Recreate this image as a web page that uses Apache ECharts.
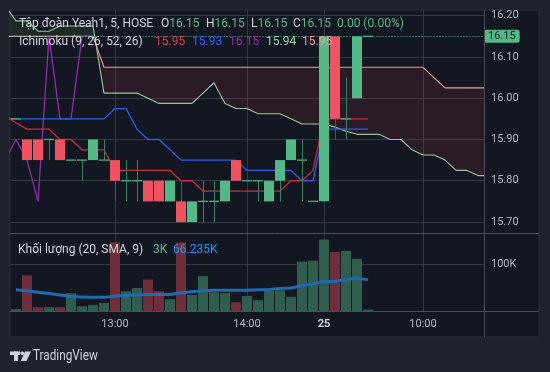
<!DOCTYPE html>
<html>
<head>
<meta charset="utf-8">
<script src="https://cdn.jsdelivr.net/npm/echarts@6/dist/echarts.min.js"></script>
<style>
html,body{margin:0;padding:0;background:#1e222d;}
#c{width:550px;height:372px;}
</style>
</head>
<body>
<div id="c"></div>
<script>
// ---------- data ----------
const barTimes = ['10:45','10:50','10:55','11:00','11:05','11:10','11:15','11:20','11:25',
  '13:00','13:05','13:10','13:15','13:20','13:25','13:30','13:35','13:40','13:45','13:50','13:55',
  '14:00','14:05','14:10','14:15','14:20','14:25','14:45','09:15','09:20','09:25','09:30','09:35'];
const tickIndex = [9, 21, 28, 37];
const tickLabels = ['13:00', '14:00', '25', '10:00'];
const priceTicks = [15.7, 15.8, 15.9, 16.0, 16.1, 16.2];
const volumeTicks = [100000];

const openP  = [15.95,15.90,15.90,15.90,15.90,15.85,15.85,15.85,15.85,15.85,15.80,15.80,15.80,15.80,15.75,15.75,15.70,15.75,15.75,15.75,15.85,15.80,15.80,15.75,15.80,15.85,15.85,15.75,15.75,16.15,15.95,16.00,16.15];
const highP  = [15.95,15.90,15.90,15.90,15.90,15.85,15.85,15.90,15.90,15.85,15.85,15.85,15.80,15.80,15.80,15.80,15.75,15.80,15.80,15.80,15.85,15.80,15.80,15.80,15.85,15.90,15.90,15.75,16.15,16.15,16.05,16.15,16.15];
const lowP   = [15.95,15.85,15.85,15.85,15.85,15.85,15.80,15.85,15.85,15.75,15.75,15.75,15.75,15.75,15.75,15.70,15.70,15.70,15.70,15.75,15.80,15.80,15.75,15.75,15.75,15.85,15.75,15.75,15.75,15.90,15.90,16.00,16.15];
const closeP = [15.95,15.85,15.85,15.90,15.85,15.85,15.85,15.90,15.85,15.80,15.80,15.80,15.75,15.75,15.80,15.70,15.75,15.75,15.75,15.80,15.80,15.80,15.80,15.80,15.85,15.90,15.85,15.75,16.15,15.95,15.95,16.15,16.15];

const volumeK   = [4,76,8,8,8,38,10,13,17,146,42,49,67,42,25,146,34,74,40,38,19,32,23,44,44,30,105,107,152,126,128,111,3];
const volumeMaK = [45,43,40,37,34,31,30,29,29,32,33,34,35,35,35,39,41,43,44,44,44,44,45,46,48,49,54,58,63,63,67,70,66.235];

// Ichimoku lines, first value sits one bar before the first candle
const ichiStart = -1;
const conversionLine = [15.96,15.94,15.925,15.925,15.925,15.90,15.90,15.875,15.875,15.875,15.825,15.825,15.825,15.825,15.825,15.825,15.80,15.80,15.775,15.775,15.775,15.775,15.775,15.775,15.775,15.775,15.80,15.80,15.825,15.95,15.95,15.95,15.95,15.95];
const baseLine = [15.95,15.95,15.95,15.95,15.95,15.95,15.95,15.95,15.95,15.95,15.975,15.975,15.925,15.90,15.90,15.875,15.85,15.85,15.85,15.85,15.85,15.85,15.825,15.825,15.825,15.825,15.825,15.80,15.80,15.925,15.925,15.925,15.925,15.925];
const laggingSpan = [15.85,15.90,15.85,15.75,16.15,15.95,15.95,16.15,16.15];
const leadingSpanA = [16.225,16.1875,16.1875,16.1625,16.1625,16.175,16.175,16.175,16.175,
  16.0125,16.0125,16.0125,16.0125,16.00,15.9875,15.9875,15.9875,15.9875,16.0125,16.0375,15.9875,15.975,15.975,
  15.9625,15.9625,15.9625,15.95,15.9375,15.9375,15.9375,15.93,15.92,15.9125,15.9125,15.9125,15.90,15.90,
  15.875,15.8625,15.8625,15.85,15.825,15.825,15.8125,15.8125];
const leadingSpanB = [16.15,16.15,16.15,16.15,16.15,16.15,16.15,16.15,16.15,
  16.075,16.075,16.075,16.075,16.075,16.075,16.075,16.075,16.075,16.075,16.075,16.075,16.075,16.075,16.075,
  16.075,16.075,16.075,16.075,16.075,16.075,16.075,16.075,16.075,16.075,16.075,16.075,16.075,16.075,16.075,
  16.05,16.025,16.025,16.025,16.025,16.025];
const ichimokuLegend = ['15.95', '15.93', '16.15', '15.94', '15.95'];

// ---------- styling ----------
const FONT = 'Roboto, "Noto Sans", sans-serif';
const LFONT = '12px ' + FONT;
const upC = '#53b987', downC = '#ef5261';
const upWick = '#358260', downWick = '#93394a';
const volUp = '#2f5e4e', volDown = '#6e2e3b';
const gridC = '#363a45', sepC = '#4c4f5a', axisTxt = '#b2b5be';
const redLineC = '#c92c3b', blueLineC = '#2a5fe8', purpleC = '#9529ae', spanAC = '#98c79a', spanBC = '#ef9a9a';

const n = closeP.length;
const candleData = closeP.map((c, i) => [i, openP[i], c, lowP[i], highP[i]]);
const volData = volumeK.map((v, i) => ({ value: [i, v * 1000], itemStyle: { color: closeP[i] >= openP[i] ? volUp : volDown } }));
const volMaData = volumeMaK.map((v, i) => [i, v * 1000]);
const toXY = arr => arr.map((v, i) => [i + ichiStart, v]);
const cloudData = leadingSpanA.slice(0, -1).map((a, i) => [i + ichiStart, a, leadingSpanB[i], leadingSpanA[i + 1], leadingSpanB[i + 1]]);

function renderCloud(params, api) {
  const x0 = api.value(0), a0 = api.value(1), b0 = api.value(2), a1 = api.value(3), b1 = api.value(4);
  const x1 = x0 + 1;
  const d0 = a0 - b0, d1 = a1 - b1;
  const upFill = 'rgba(67,160,71,0.15)', dnFill = 'rgba(244,62,72,0.11)';
  const poly = (pts, up) => ({ type: 'polygon', shape: { points: pts.map(p => api.coord(p)) }, style: { fill: up ? upFill : dnFill } });
  const kids = [];
  if (d0 * d1 >= 0) {
    kids.push(poly([[x0, a0], [x1, a1], [x1, b1], [x0, b0]], (d0 + d1) > 0));
  } else {
    const t = d0 / (d0 - d1);
    const xc = x0 + t, yc = a0 + t * (a1 - a0);
    kids.push(poly([[x0, a0], [xc, yc], [x0, b0]], d0 > 0));
    kids.push(poly([[xc, yc], [x1, a1], [x1, b1]], d1 > 0));
  }
  return { type: 'group', children: kids };
}

function renderCandle(params, api) {
  const x = api.value(0), o = api.value(1), c = api.value(2), l = api.value(3), h = api.value(4);
  const po = api.coord([x, o]), pc = api.coord([x, c]), pl = api.coord([x, l]), ph = api.coord([x, h]);
  const w = Math.round(api.size([1, 0])[0] * 0.88);
  const cx = Math.round(po[0]);
  const up = c >= o;
  const kids = [];
  if (Math.abs(ph[1] - pl[1]) > 0.5) {
    kids.push({ type: 'line', shape: { x1: cx + 0.5, y1: ph[1], x2: cx + 0.5, y2: pl[1] }, style: { stroke: up ? upWick : downWick, lineWidth: 1 } });
  }
  if (o === c) {
    kids.push({ type: 'line', shape: { x1: cx - w / 2, y1: po[1], x2: cx + w / 2, y2: po[1] }, style: { stroke: '#47a77b', lineWidth: 1.4 } });
  } else {
    const top = Math.min(po[1], pc[1]), bot = Math.max(po[1], pc[1]);
    kids.push({ type: 'rect', shape: { x: cx - w / 2, y: top, width: w, height: bot - top }, style: { fill: up ? upC : downC } });
  }
  return { type: 'group', children: kids };
}

const xBase = { type: 'value', min: -0.5, max: 42.545, axisLine: { show: false },
  axisTick: { show: false, customValues: tickIndex },
  splitLine: { show: true, lineStyle: { color: gridC, width: 1 } } };

const legendText = (x, y, text, fill, extra) => Object.assign({ type: 'text', x: x, y: y, z: 100,
  style: { text: text, fill: fill, font: LFONT, verticalAlign: 'middle' } }, extra || {});

const last = n - 1;
const chg = closeP[last] - closeP[last - 1];
const fmtK = v => (Math.round(v * 1000) / 1000) + 'K';

const option = {
  animation: false,
  backgroundColor: '#1e222d',
  grid: [
    { left: 10.5, right: 66, top: 10, height: 223 },
    { left: 10.5, right: 66, top: 234, height: 77 }
  ],
  xAxis: [
    Object.assign({}, xBase, { gridIndex: 0, axisLabel: { show: false, customValues: tickIndex } }),
    Object.assign({}, xBase, { gridIndex: 1, axisLabel: { show: true, customValues: tickIndex, color: axisTxt, fontSize: 11, fontFamily: FONT, margin: 8,
      formatter: v => { const s = tickLabels[tickIndex.indexOf(Math.round(v))]; return s === '25' ? '{b|25}' : s; },
      rich: { b: { fontWeight: 'bold', color: '#d1d4dc', fontSize: 11, fontFamily: FONT } } } })
  ],
  yAxis: [
    { gridIndex: 0, type: 'value', position: 'right', min: 15.6733, max: 16.2139,
      axisLine: { show: false }, axisTick: { show: false, customValues: priceTicks },
      axisLabel: { customValues: priceTicks, formatter: v => v.toFixed(2), color: axisTxt, fontSize: 11, fontFamily: FONT, margin: 7 },
      splitLine: { show: true, lineStyle: { color: gridC, width: 1 } } },
    { gridIndex: 1, type: 'value', position: 'right', min: 0, max: 163800,
      axisLine: { show: false }, axisTick: { show: false, customValues: volumeTicks },
      axisLabel: { customValues: volumeTicks, formatter: v => (v / 1000) + 'K', color: axisTxt, fontSize: 11, fontFamily: FONT, margin: 7 },
      splitLine: { show: true, lineStyle: { color: gridC, width: 1 } } }
  ],
  series: [
    { type: 'custom', name: 'cloud', xAxisIndex: 0, yAxisIndex: 0, renderItem: renderCloud, data: cloudData,
      encode: { x: 0, y: [1, 2, 3, 4] }, clip: true, z: 1, silent: true },
    { type: 'line', name: 'spanA', xAxisIndex: 0, yAxisIndex: 0, data: toXY(leadingSpanA), showSymbol: false, z: 2,
      lineStyle: { color: spanAC, width: 1.1 } },
    { type: 'line', name: 'spanB', xAxisIndex: 0, yAxisIndex: 0, data: toXY(leadingSpanB), showSymbol: false, z: 2,
      lineStyle: { color: spanBC, width: 1.1 } },
    { type: 'line', name: 'lagging', xAxisIndex: 0, yAxisIndex: 0, data: toXY(laggingSpan), showSymbol: false, z: 2,
      lineStyle: { color: purpleC, width: 1.3 } },
    { type: 'line', name: 'base', xAxisIndex: 0, yAxisIndex: 0, data: toXY(baseLine), showSymbol: false, z: 2,
      lineStyle: { color: blueLineC, width: 1.3 } },
    { type: 'line', name: 'conversion', xAxisIndex: 0, yAxisIndex: 0, data: toXY(conversionLine), showSymbol: false, z: 2,
      lineStyle: { color: redLineC, width: 1.3 },
      markLine: { silent: true, symbol: ['none', 'none'], z: 5,
        lineStyle: { color: upC, type: [1, 2], width: 1 },
        label: { show: true, position: 'end', distance: 0, formatter: closeP[last].toFixed(2),
          backgroundColor: upC, color: '#131722', fontSize: 11, fontFamily: FONT, padding: [1, 4, 0, 4], lineHeight: 12, borderRadius: 2 },
        data: [{ yAxis: closeP[last] }] } },
    { type: 'custom', name: 'candles', xAxisIndex: 0, yAxisIndex: 0, renderItem: renderCandle, data: candleData,
      encode: { x: 0, y: [1, 2, 3, 4] }, clip: true, z: 3 },
    { type: 'bar', name: 'volume', xAxisIndex: 1, yAxisIndex: 1, data: volData, barWidth: 10, z: 2 },
    { type: 'line', name: 'volMA', xAxisIndex: 1, yAxisIndex: 1, data: volMaData, showSymbol: false, z: 3,
      lineStyle: { color: '#1f6bb3', width: 3 } }
  ],
  graphic: [
    { type: 'rect', x: 10, y: 10, z: -10, shape: { width: 529, height: 327 }, style: { fill: '#131722', stroke: '#2a2e39', lineWidth: 1 } },
    { type: 'line', z: 50, shape: { x1: 10, y1: 233.5, x2: 539, y2: 233.5 }, style: { stroke: sepC, lineWidth: 1 } },
    { type: 'line', z: 50, shape: { x1: 10, y1: 311.5, x2: 539, y2: 311.5 }, style: { stroke: sepC, lineWidth: 1 } },
    { type: 'line', z: 50, shape: { x1: 484.5, y1: 10, x2: 484.5, y2: 337 }, style: { stroke: sepC, lineWidth: 1 } },

    legendText(19, 24, 'Tập đoàn Yeah1, 5, HOSE', '#d1d4dc'),
    legendText(161, 24, '{l|O}{v|' + openP[last].toFixed(2) + '}', '#d1d4dc'),
    legendText(206, 24, '{l|H}{v|' + highP[last].toFixed(2) + '}', '#d1d4dc'),
    legendText(251, 24, '{l|L}{v|' + lowP[last].toFixed(2) + '}', '#d1d4dc'),
    legendText(293, 24, '{l|C}{v|' + closeP[last].toFixed(2) + '}', '#d1d4dc'),
    legendText(337, 24, chg.toFixed(2) + ' (' + (chg / closeP[last - 1] * 100).toFixed(2) + '%)', upC),

    legendText(19, 42, 'Ichimoku (9, 26, 52, 26)', '#d1d4dc'),
    legendText(155, 42, ichimokuLegend[0], '#e53a48'),
    legendText(192, 42, ichimokuLegend[1], '#2962ff'),
    legendText(229, 42, ichimokuLegend[2], '#9c27b0'),
    legendText(266, 42, ichimokuLegend[3], '#a5d6a7'),
    legendText(302, 42, ichimokuLegend[4], '#ef9a9a'),

    legendText(18, 250, 'Khối lượng (20, SMA, 9)', '#d1d4dc'),
    legendText(153, 250, fmtK(volumeK[last]), upC),
    legendText(173, 250, fmtK(volumeMaK[last]), '#2196f3'),

    // TradingView logo
    { type: 'rect', z: 100, shape: { x: 10, y: 351.5, width: 10, height: 3.5 }, style: { fill: '#d1d4dc' } },
    { type: 'rect', z: 100, shape: { x: 14, y: 351.5, width: 4, height: 9.5 }, style: { fill: '#d1d4dc' } },
    { type: 'circle', z: 100, shape: { cx: 22.3, cy: 353.3, r: 1.9 }, style: { fill: '#d1d4dc' } },
    { type: 'polygon', z: 100, shape: { points: [[25, 351.5], [31, 351.5], [26.5, 361], [20.8, 361]] }, style: { fill: '#d1d4dc' } },
    { type: 'text', z: 100, x: 33, y: 356.5, scaleX: 0.84,
      style: { text: 'TradingView', fill: '#d1d4dc', font: '14px ' + FONT, verticalAlign: 'middle' } }
  ]
};

// rich styles for O/H/L/C blocks
option.graphic.forEach(g => {
  if (g.type === 'text' && g.style && typeof g.style.text === 'string' && g.style.text.indexOf('{l|') === 0) {
    g.style.rich = { l: { fill: '#d1d4dc', font: LFONT }, v: { fill: upC, font: LFONT } };
  }
});

const chart = echarts.init(document.getElementById('c'), null, { renderer: 'canvas', width: 550, height: 372 });
chart.setOption(option);
</script>
</body>
</html>
